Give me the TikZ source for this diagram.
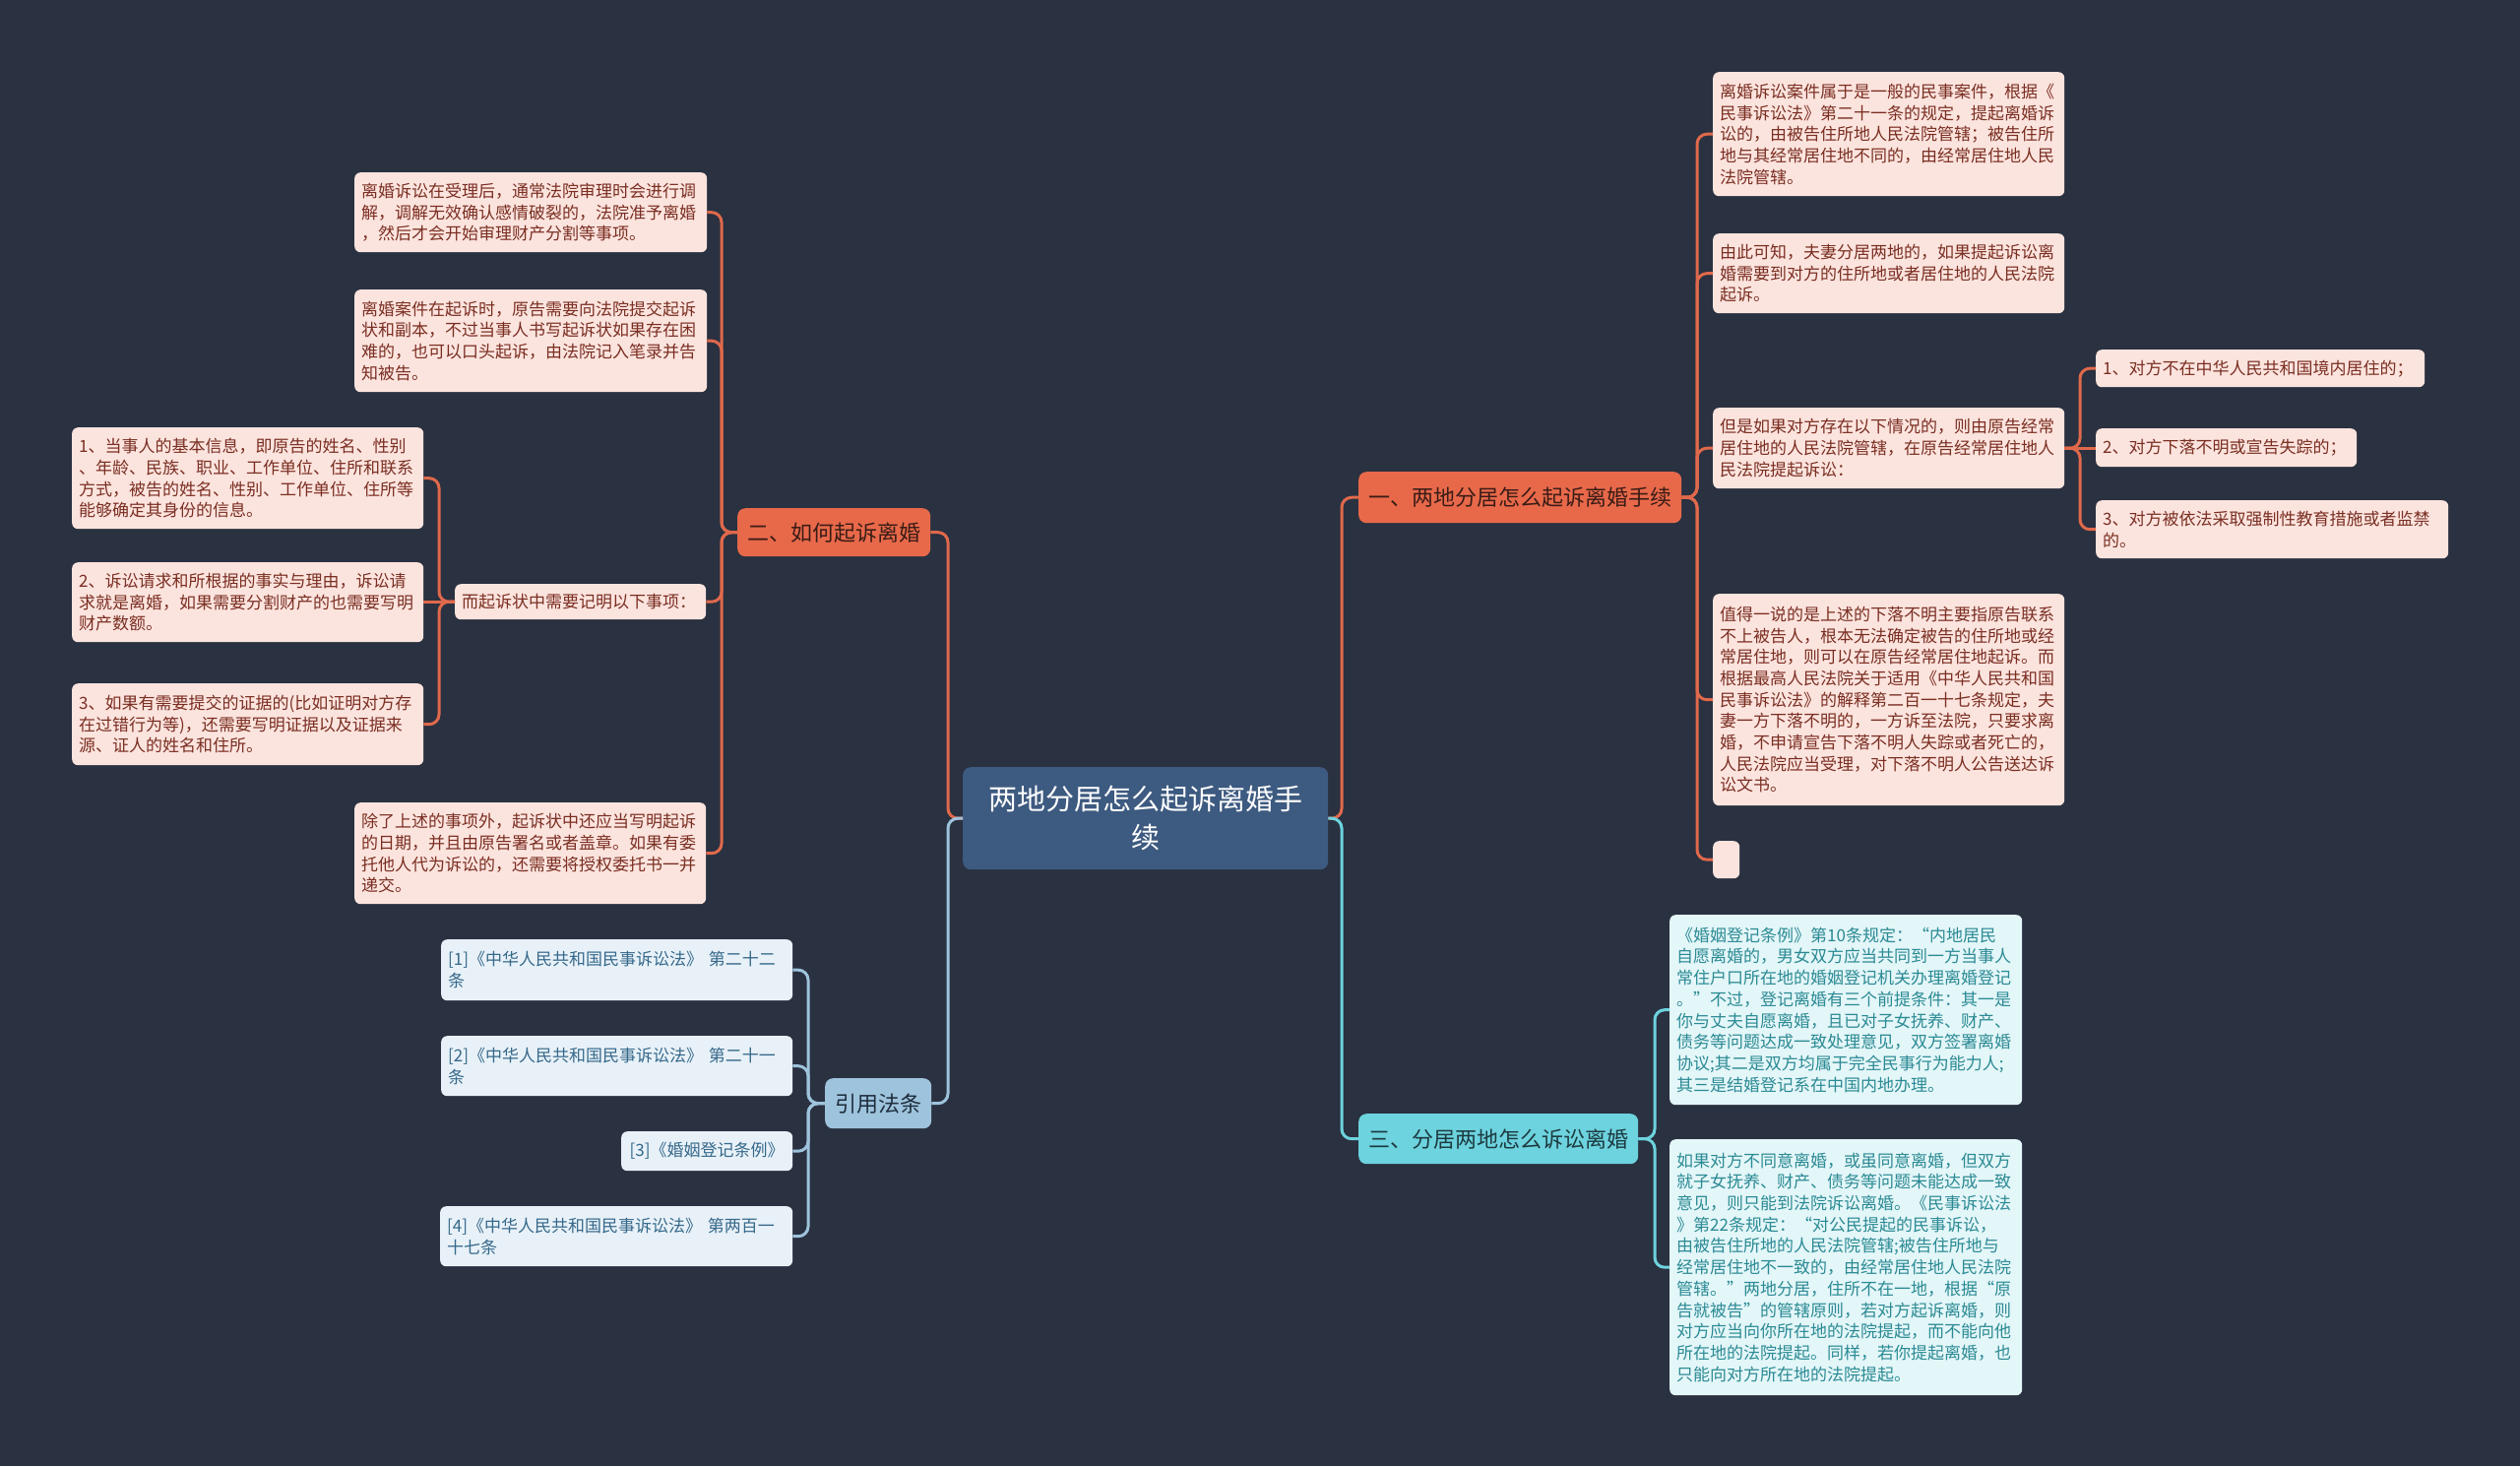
\documentclass[tikz,border=0pt]{standalone}
\usepackage{fontspec}
\setmainfont{Noto Sans CJK SC}
\definecolor{bg}{HTML}{2A3140}
\definecolor{centerfill}{HTML}{3D5A80}
\definecolor{coral}{HTML}{E8694A}
\definecolor{coralline}{HTML}{E0694C}
\definecolor{coralleaf}{HTML}{FCE4DE}
\definecolor{coraltxt}{HTML}{7A2E22}
\definecolor{coraldark}{HTML}{3A1C16}
\definecolor{cyan1}{HTML}{6DD3DE}
\definecolor{cyanleaf}{HTML}{E3F6F8}
\definecolor{cyantxt}{HTML}{2B8A94}
\definecolor{cyandark}{HTML}{1C3A40}
\definecolor{blue1}{HTML}{9EC3DC}
\definecolor{blueleaf}{HTML}{E8F1F8}
\definecolor{bluetxt}{HTML}{35688A}
\definecolor{bluedark}{HTML}{1E2E3E}
\begin{document}
\begin{tikzpicture}[x=1pt,y=-1pt,
  leafbase/.style={rounded corners=6pt, anchor=north west, inner xsep=7pt, inner ysep=0pt, align=left, font=\fontsize{17}{21.7}\selectfont},
  leafC/.style={leafbase, fill=coralleaf, text=coraltxt},
  leafY/.style={leafbase, fill=cyanleaf, text=cyantxt},
  leafB/.style={leafbase, fill=blueleaf, text=bluetxt},
  branchbase/.style={rounded corners=8pt, anchor=north west, inner sep=0pt, font=\fontsize{22}{26}\selectfont},
  lnC/.style={draw=coralline, line width=3pt, rounded corners=10pt},
  lnY/.style={draw=cyan1, line width=3pt, rounded corners=10pt},
  lnB/.style={draw=blue1, line width=3pt, rounded corners=10pt}]
\useasboundingbox (0,0) rectangle (2560,1489);
\fill[bg] (0,0) rectangle (2560,1489);

% central
\node[anchor=north west, fill=centerfill, rounded corners=8pt, minimum width=371pt, minimum height=104pt, inner sep=0pt, align=center, text=white, font=\fontsize{29}{39}\selectfont] (center) at (978,779) {两地分居怎么起诉离婚手\\续};

% branches
\node[branchbase, fill=coral, text=coraldark, minimum width=328pt, minimum height=52pt] (b1) at (1380,479) {一、两地分居怎么起诉离婚手续};
\node[branchbase, fill=cyan1, text=cyandark, minimum width=284pt, minimum height=51pt] (b3) at (1380,1131) {三、分居两地怎么诉讼离婚};
\node[branchbase, fill=coral, text=coraldark, minimum width=196pt, minimum height=49pt] (b2) at (749,516) {二、如何起诉离婚};
\node[branchbase, fill=blue1, text=bluedark, minimum width=108pt, minimum height=51pt] (bref) at (838,1095) {引用法条};

% branch 1 leaves
\node[leafC, text width=343pt, minimum height=126pt] (r1) at (1740,73) {离婚诉讼案件属于是一般的民事案件，根据《\\民事诉讼法》第二十一条的规定，提起离婚诉\\讼的，由被告住所地人民法院管辖；被告住所\\地与其经常居住地不同的，由经常居住地人民\\法院管辖。};
\node[leafC, text width=343pt, minimum height=81pt] (r2) at (1740,237) {由此可知，夫妻分居两地的，如果提起诉讼离\\婚需要到对方的住所地或者居住地的人民法院\\起诉。};
\node[leafC, text width=343pt, minimum height=82pt] (r3) at (1740,414) {但是如果对方存在以下情况的，则由原告经常\\居住地的人民法院管辖，在原告经常居住地人\\民法院提起诉讼：};
\node[leafC, text width=320pt, minimum height=38pt] (c1) at (2129,355) {1、对方不在中华人民共和国境内居住的；};
\node[leafC, text width=251pt, minimum height=39pt] (c2) at (2129,435) {2、对方下落不明或宣告失踪的；};
\node[leafC, text width=344pt, minimum height=59pt] (c3) at (2129,508) {3、对方被依法采取强制性教育措施或者监禁\\的。};
\node[leafC, text width=343pt, minimum height=215pt] (r4) at (1740,603) {值得一说的是上述的下落不明主要指原告联系\\不上被告人，根本无法确定被告的住所地或经\\常居住地，则可以在原告经常居住地起诉。而\\根据最高人民法院关于适用《中华人民共和国\\民事诉讼法》的解释第二百一十七条规定，夫\\妻一方下落不明的，一方诉至法院，只要求离\\婚，不申请宣告下落不明人失踪或者死亡的，\\人民法院应当受理，对下落不明人公告送达诉\\讼文书。};
\node[leafC, inner sep=0pt, minimum width=27pt, minimum height=38pt] (r5) at (1740,854) {};

% branch 3 leaves
\node[leafY, text width=344pt, minimum height=193pt] (y1) at (1696,929) {《婚姻登记条例》第10条规定：“内地居民\\自愿离婚的，男女双方应当共同到一方当事人\\常住户口所在地的婚姻登记机关办理离婚登记\\。”不过，登记离婚有三个前提条件：其一是\\你与丈夫自愿离婚，且已对子女抚养、财产、\\债务等问题达成一致处理意见，双方签署离婚\\协议;其二是双方均属于完全民事行为能力人;\\其三是结婚登记系在中国内地办理。};
\node[leafY, text width=344pt, minimum height=260pt] (y2) at (1696,1157) {如果对方不同意离婚，或虽同意离婚，但双方\\就子女抚养、财产、债务等问题未能达成一致\\意见，则只能到法院诉讼离婚。《民事诉讼法\\》第22条规定：“对公民提起的民事诉讼，\\由被告住所地的人民法院管辖;被告住所地与\\经常居住地不一致的，由经常居住地人民法院\\管辖。”两地分居，住所不在一地，根据“原\\告就被告”的管辖原则，若对方起诉离婚，则\\对方应当向你所在地的法院提起，而不能向他\\所在地的法院提起。同样，若你提起离婚，也\\只能向对方所在地的法院提起。};

% branch 2 leaves
\node[leafC, text width=344pt, minimum height=81pt] (l1) at (360,175) {离婚诉讼在受理后，通常法院审理时会进行调\\解，调解无效确认感情破裂的，法院准予离婚\\，然后才会开始审理财产分割等事项。};
\node[leafC, text width=344pt, minimum height=104pt] (l2) at (360,294) {离婚案件在起诉时，原告需要向法院提交起诉\\状和副本，不过当事人书写起诉状如果存在困\\难的，也可以口头起诉，由法院记入笔录并告\\知被告。};
\node[leafC, text width=241pt, minimum height=36pt] (l3) at (462,593) {而起诉状中需要记明以下事项：};
\node[leafC, text width=343pt, minimum height=103pt] (l4) at (360,815) {除了上述的事项外，起诉状中还应当写明起诉\\的日期，并且由原告署名或者盖章。如果有委\\托他人代为诉讼的，还需要将授权委托书一并\\递交。};
\node[leafC, text width=343pt, minimum height=103pt] (ll1) at (73,434) {1、当事人的基本信息，即原告的姓名、性别\\、年龄、民族、职业、工作单位、住所和联系\\方式，被告的姓名、性别、工作单位、住所等\\能够确定其身份的信息。};
\node[leafC, text width=343pt, minimum height=81pt] (ll2) at (73,571) {2、诉讼请求和所根据的事实与理由，诉讼请\\求就是离婚，如果需要分割财产的也需要写明\\财产数额。};
\node[leafC, text width=343pt, minimum height=83pt] (ll3) at (73,694) {3、如果有需要提交的证据的(比如证明对方存\\在过错行为等)，还需要写明证据以及证据来\\源、证人的姓名和住所。};

% references
\node[leafB, text width=343pt, minimum height=62pt] (f1) at (448,954) {[1]《中华人民共和国民事诉讼法》 第二十二\\条};
\node[leafB, text width=343pt, minimum height=61pt] (f2) at (448,1052) {[2]《中华人民共和国民事诉讼法》 第二十一\\条};
\node[leafB, align=center, inner xsep=0pt, minimum width=174pt, minimum height=40pt] (f3) at (631,1149) {[3]《婚姻登记条例》};
\node[leafB, text width=344pt, minimum height=61pt] (f4) at (447,1225) {[4]《中华人民共和国民事诉讼法》 第两百一\\十七条};

% trunk coordinates
\coordinate (tcl) at (963,0);
\coordinate (tcr) at (1363,0);
\coordinate (tb1) at (1724,0);
\coordinate (tr3) at (2113,0);
\coordinate (tb3) at (1681,0);
\coordinate (tb2) at (733,0);
\coordinate (tl3) at (446,0);
\coordinate (tref) at (821,0);

% connectors from center
\draw[lnC] (center.west) -- (center.west -| tcl) |- (b2.east);
\draw[lnB] (center.west) -- (center.west -| tcl) |- (bref.east);
\draw[lnC] (center.east) -- (center.east -| tcr) |- (b1.west);
\draw[lnY] (center.east) -- (center.east -| tcr) |- (b3.west);

% branch 1
\foreach \n in {r1,r2,r3,r4,r5}
  \draw[lnC] (b1.east) -- (b1.east -| tb1) |- (\n.west);
\foreach \n in {c1,c3}
  \draw[lnC] (r3.east) -- (r3.east -| tr3) |- (\n.west);
\draw[lnC] (r3.east) -- (r3.east -| c2.west);

% branch 3
\foreach \n in {y1,y2}
  \draw[lnY] (b3.east) -- (b3.east -| tb3) |- (\n.west);

% branch 2
\foreach \n in {l1,l2,l3,l4}
  \draw[lnC] (b2.west) -- (b2.west -| tb2) |- (\n.east);
\foreach \n in {ll1,ll3}
  \draw[lnC] (l3.west) -- (l3.west -| tl3) |- (\n.east);
\draw[lnC] (l3.west) -- (l3.west -| ll2.east);

% references
\foreach \n in {f1,f2,f3,f4}
  \draw[lnB] (bref.west) -- (bref.west -| tref) |- (\n.east);
\end{tikzpicture}
\end{document}
